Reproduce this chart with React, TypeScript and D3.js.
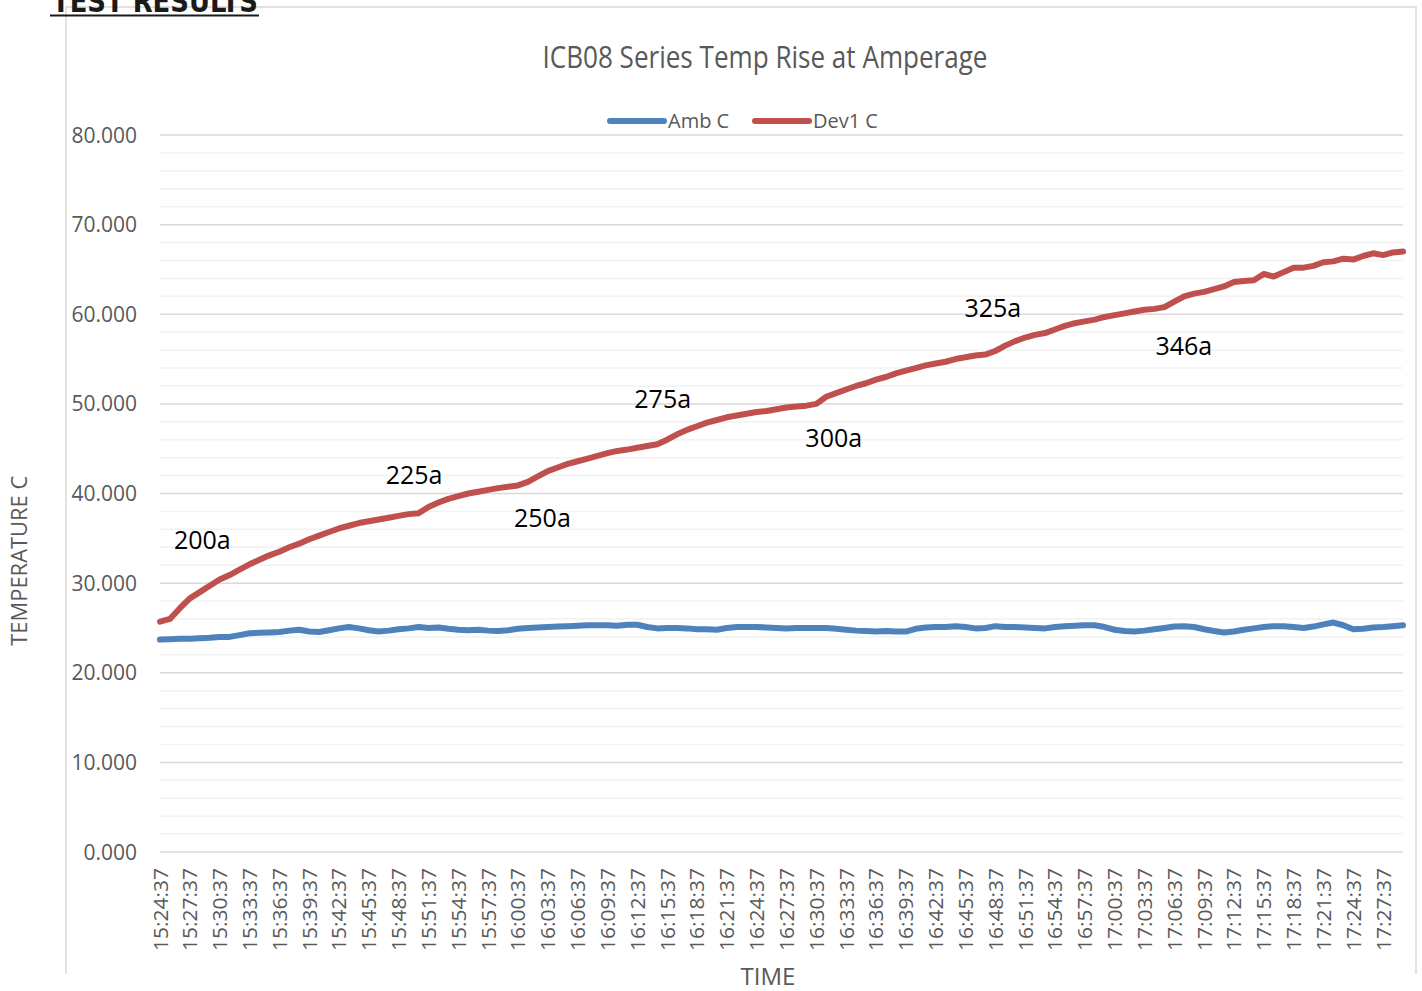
import React from "react";
import * as d3 from "d3";

// time tick labels, one every 3 readings (readings are 1 minute apart)
const timeLabels = [
  "15:24:37", "15:27:37", "15:30:37", "15:33:37", "15:36:37", "15:39:37", "15:42:37",
  "15:45:37", "15:48:37", "15:51:37", "15:54:37", "15:57:37", "16:00:37", "16:03:37",
  "16:06:37", "16:09:37", "16:12:37", "16:15:37", "16:18:37", "16:21:37", "16:24:37",
  "16:27:37", "16:30:37", "16:33:37", "16:36:37", "16:39:37", "16:42:37", "16:45:37",
  "16:48:37", "16:51:37", "16:54:37", "16:57:37", "17:00:37", "17:03:37", "17:06:37",
  "17:09:37", "17:12:37", "17:15:37", "17:18:37", "17:21:37", "17:24:37", "17:27:37",
];

const ambC = [
  23.7, 23.75, 23.8, 23.8, 23.85, 23.9, 24.0, 24.0, 24.2, 24.4,
  24.45, 24.5, 24.55, 24.7, 24.8, 24.6, 24.55, 24.75, 24.95, 25.1,
  24.95, 24.75, 24.6, 24.7, 24.85, 24.95, 25.1, 25.0, 25.05, 24.9,
  24.8, 24.75, 24.8, 24.7, 24.65, 24.75, 24.9, 25.0, 25.05, 25.1,
  25.15, 25.2, 25.25, 25.3, 25.3, 25.3, 25.25, 25.35, 25.35, 25.1,
  24.95, 25.0, 25.0, 24.95, 24.85, 24.85, 24.8, 25.0, 25.1, 25.1,
  25.1, 25.05, 25.0, 24.95, 25.0, 25.0, 25.0, 25.0, 24.9, 24.8,
  24.7, 24.65, 24.6, 24.65, 24.6, 24.6, 24.9, 25.05, 25.1, 25.1,
  25.2, 25.1, 24.95, 25.0, 25.2, 25.1, 25.1, 25.05, 25.0, 24.95,
  25.1, 25.2, 25.25, 25.3, 25.3, 25.1, 24.8, 24.65, 24.6, 24.7,
  24.85, 25.0, 25.15, 25.2, 25.1, 24.85, 24.65, 24.5, 24.6, 24.8,
  24.95, 25.1, 25.2, 25.2, 25.1, 25.0, 25.15, 25.4, 25.6, 25.3,
  24.85, 24.9, 25.05, 25.1, 25.2, 25.3,
];

const dev1C = [
  25.7, 26.0, 27.2, 28.3, 29.0, 29.7, 30.4, 30.9, 31.5, 32.1,
  32.6, 33.1, 33.5, 34.0, 34.4, 34.9, 35.3, 35.7, 36.1, 36.4,
  36.7, 36.9, 37.1, 37.3, 37.5, 37.7, 37.8, 38.5, 39.0, 39.4,
  39.7, 40.0, 40.2, 40.4, 40.6, 40.75, 40.9, 41.3, 41.9, 42.5,
  42.9, 43.3, 43.6, 43.9, 44.2, 44.5, 44.75, 44.9, 45.1, 45.3,
  45.5, 46.0, 46.6, 47.1, 47.5, 47.9, 48.2, 48.5, 48.7, 48.9,
  49.1, 49.2, 49.4, 49.6, 49.7, 49.8, 50.0, 50.8, 51.2, 51.6,
  52.0, 52.3, 52.7, 53.0, 53.4, 53.7, 54.0, 54.3, 54.5, 54.7,
  55.0, 55.2, 55.4, 55.5, 55.9, 56.5, 57.0, 57.4, 57.7, 57.9,
  58.3, 58.7, 59.0, 59.2, 59.4, 59.7, 59.9, 60.1, 60.3, 60.5,
  60.6, 60.8, 61.4, 62.0, 62.3, 62.5, 62.8, 63.1, 63.6, 63.7,
  63.8, 64.5, 64.2, 64.7, 65.2, 65.2, 65.4, 65.8, 65.9, 66.2,
  66.1, 66.5, 66.8, 66.6, 66.9, 67.0,
];

const yTicks = [0, 10, 20, 30, 40, 50, 60, 70, 80];

// current steps written on the chart, anchored at (reading index, temperature)
const ampLabels = ["200a", "225a", "250a", "275a", "300a", "325a", "346a"];
const ampAnchorIdx = [1.4, 22.7, 35.6, 47.7, 64.9, 80.9, 100.1];
const ampAnchorTemp = [33.8, 41.1, 36.3, 49.5, 45.2, 59.7, 55.5];

const grey = "#595959";

export default function App() {
  const x = d3.scaleLinear().domain([0, ambC.length - 1]).range([160, 1403]);
  const y = d3.scaleLinear().domain([0, 80]).range([852, 135]);

  const line = d3
    .line<number>()
    .x((d, i) => x(i))
    .y((d) => y(d));

  const minor = d3.range(0, 81, 2).filter((v) => v % 10 !== 0);

  return (
    <svg
      width={1422}
      height={991}
      style={{ position: "absolute", left: 0, top: 0, background: "#fff" }}
      fontFamily="'Open Sans', sans-serif"
    >
      {/* chart frame */}
      <path d="M66,974 V7 H1416 V974" fill="none" stroke="#d9d9d9" strokeWidth={1.5} />

      <text
        x={52}
        y={12}
        fontFamily="'Liberation Sans Narrow', 'DejaVu Sans Condensed', sans-serif"
        fontWeight="bold"
        fontSize={30}
        fill="#1a1a1a"
        textLength={206}
        lengthAdjust="spacingAndGlyphs"
      >
        TEST RESULTS
      </text>
      <line x1={50} x2={259} y1={15.5} y2={15.5} stroke="#1a1a1a" strokeWidth={2} />

      <text
        x={765}
        y={68}
        textAnchor="middle"
        fontFamily="'Liberation Sans Narrow', 'Open Sans', sans-serif"
        fontSize={31}
        fill={grey}
        textLength={445}
        lengthAdjust="spacingAndGlyphs"
      >
        ICB08 Series Temp Rise at Amperage
      </text>

      {/* legend */}
      <line x1={610} x2={664} y1={121} y2={121} stroke="#4f81bd" strokeWidth={6} strokeLinecap="round" />
      <text x={668} y={128} fontSize={20} fill={grey}>Amb C</text>
      <line x1={755} x2={809} y1={121} y2={121} stroke="#c0504d" strokeWidth={6} strokeLinecap="round" />
      <text x={813} y={128} fontSize={20} fill={grey}>Dev1 C</text>

      {/* gridlines */}
      {minor.map((v) => (
        <line key={"m" + v} x1={160} x2={1403} y1={y(v)} y2={y(v)} stroke="#f2f2f2" strokeWidth={1.5} />
      ))}
      {yTicks.map((v) => (
        <line key={"g" + v} x1={160} x2={1403} y1={y(v)} y2={y(v)} stroke="#d9d9d9" strokeWidth={1.5} />
      ))}

      {/* y axis */}
      {yTicks.map((v) => (
        <text key={"y" + v} x={137} y={y(v)} dy="0.36em" textAnchor="end" fontSize={21} fill={grey}>
          {d3.format(".3f")(v)}
        </text>
      ))}
      <text
        transform={`translate(27,${y(32.5)}) rotate(-90)`}
        textAnchor="middle"
        fontSize={22}
        fill={grey}
        textLength={170}
        lengthAdjust="spacingAndGlyphs"
      >
        TEMPERATURE C
      </text>

      {/* x axis */}
      {timeLabels.map((t, k) => (
        <text
          key={t}
          transform={`translate(${x(k * 3)},868) rotate(-90)`}
          textAnchor="end"
          dominantBaseline="central"
          fontSize={20}
          fill={grey}
          textLength={83}
          lengthAdjust="spacingAndGlyphs"
        >
          {t}
        </text>
      ))}
      <text x={768} y={985} textAnchor="middle" fontSize={24} fill={grey}>
        TIME
      </text>

      {/* series */}
      <path d={line(ambC) ?? ""} fill="none" stroke="#4f81bd" strokeWidth={6} strokeLinejoin="round" strokeLinecap="round" />
      <path d={line(dev1C) ?? ""} fill="none" stroke="#c0504d" strokeWidth={6} strokeLinejoin="round" strokeLinecap="round" />

      {/* amperage annotations */}
      {ampLabels.map((s, i) => (
        <text key={s} x={x(ampAnchorIdx[i])} y={y(ampAnchorTemp[i])} fontSize={25} fill="#000">
          {s}
        </text>
      ))}
    </svg>
  );
}
